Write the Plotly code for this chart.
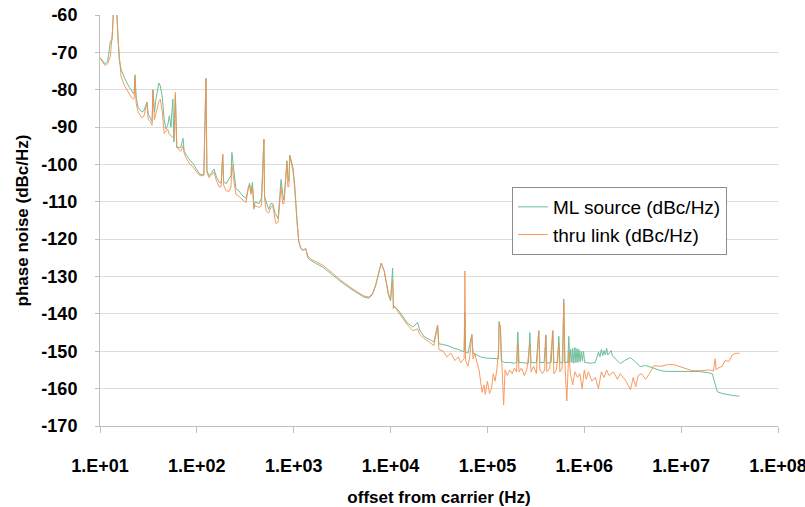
import plotly.graph_objects as go

# ---------------- data ----------------
# ML source (dBc/Hz): offset frequency (Hz) and phase noise (dBc/Hz)
freq_ml = [
    10, 10.5, 11, 11.5, 12, 12.4, 12.8, 13.3, 13.6, 14.0, 14.6, 15.2, 15.8, 16.5,
    18, 20, 21, 22, 22.5, 23, 23.6, 24.7, 27, 28.5, 30.5, 31.5, 33, 34.5,
    35.2, 36.5, 38, 40.6, 42, 44, 46, 48, 50, 52, 54, 56.5, 58, 60,
    62, 65, 68, 72, 74, 78, 85, 90, 95, 100, 105, 110, 118, 124,
    127, 133, 140, 150, 160, 170, 178, 185, 189, 200, 215, 225, 230, 240,
    253, 270, 284, 300, 322, 340, 350, 362, 375, 388, 400, 437, 465, 492,
    500, 520, 552, 580, 608, 640, 654, 690, 720, 740, 770, 794, 830, 850,
    870, 891, 912, 950, 981, 1020, 1051, 1090, 1127, 1180, 1236, 1333, 1400, 1500,
    1700, 2000, 2500, 3000, 4000, 4600, 5300, 6000, 6500, 7000, 7500, 8000, 8600, 9000,
    9500, 10000, 10500, 10700, 11000, 12000, 14000, 15000, 17000, 19000, 20000, 22000, 25000, 28000,
    30600, 31500, 35000, 40000, 45000, 50000, 55000, 57500, 58500, 59500, 63000, 69000, 71000, 78000,
    85000, 95000, 105000, 120000, 130000, 132000, 136000, 139000, 150000, 170000, 190000, 200000, 206000, 212000,
    240000, 265000, 274000, 282000, 320000, 339000, 348000, 385000, 401000, 410000, 455000, 473000, 485000, 530000,
    546000, 560000, 600000, 614000, 628000, 675000, 692000, 708000, 724000, 745000, 760000, 780000, 800000, 820000,
    840000, 860000, 880000, 905000, 930000, 955000, 980000, 1010000, 1040000, 1150000, 1300000, 1370000, 1400000, 1450000,
    1500000, 1550000, 1600000, 1650000, 1700000, 1750000, 1800000, 1850000, 1900000, 1950000, 2000000, 2200000, 2350000, 2600000,
    3.0e6, 3.4e6, 3.8e6, 4.3e6, 5.2e6, 6.2e6, 7.2e6, 1.06e7, 1.54e7, 1.96e7, 2.1e7, 2.2e7, 2.3e7, 2.36e7,
    2.65e7, 3.0e7, 3.37e7, 3.86e7, 4.0e7,
]
noise_ml = [
    -71.5, -72.0, -72.8, -73.0, -72.5, -70.0, -67.0, -66.8, -63.0, -55.0, -55.0, -64.0, -72.0, -74.5,
    -77.0, -79.3, -80.0, -81.0, -80.8, -76.0, -82.0, -84.7, -86.0, -85.5, -83.3, -86.5, -87.4, -88.5,
    -80.0, -86.0, -82.0, -78.2, -79.0, -82.0, -88.0, -90.5, -89.5, -87.0, -90.0, -82.5, -94.0, -81.5,
    -95.5, -95.4, -95.5, -93.0, -96.5, -97.5, -99.0, -99.5, -100.5, -101.5, -102.3, -102.7, -102.7, -77.0,
    -101.6, -103.0, -102.5, -101.2, -103.5, -104.8, -105.0, -97.3, -104.5, -105.2, -104.0, -103.0, -96.8, -102.0,
    -106.5, -107.0, -107.8, -108.5, -109.0, -106.0, -105.0, -107.5, -104.8, -111.5, -110.0, -110.5, -109.0, -93.3,
    -108.5, -110.0, -112.0, -110.5, -110.5, -113.0, -113.5, -114.5, -108.0, -104.0, -108.0, -109.5, -103.0, -99.0,
    -103.0, -104.5, -97.5, -99.0, -100.8, -105.0, -111.0, -116.0, -120.5, -122.5, -123.0, -122.5, -125.0, -125.7,
    -126.5, -127.5, -129.5, -131.2, -133.5, -134.5, -135.5, -135.8, -134.8, -132.5, -129.5, -126.4, -128.5, -131.5,
    -135.0, -136.5, -127.8, -138.5, -138.0, -139.0, -141.5, -142.5, -143.5, -142.3, -144.3, -146.0, -146.8, -147.5,
    -143.0, -148.0, -148.2, -148.6, -149.2, -149.5, -150.0, -150.0, -139.5, -150.2, -150.5, -145.5, -150.5, -151.0,
    -151.5, -151.8, -151.8, -152.0, -152.0, -142.0, -143.5, -152.5, -153.0, -153.0, -153.2, -153.0, -144.8, -153.0,
    -153.0, -153.2, -145.0, -153.0, -153.1, -144.5, -153.0, -153.0, -145.6, -153.2, -153.0, -144.5, -153.0, -153.0,
    -146.0, -153.0, -153.2, -136.0, -153.0, -153.0, -146.0, -153.0, -149.5, -153.0, -149.2, -153.2, -149.0, -153.0,
    -149.3, -153.0, -149.5, -152.8, -150.0, -152.6, -150.0, -153.0, -153.0, -153.2, -153.0, -150.8, -150.2, -151.5,
    -149.5, -151.2, -149.8, -151.0, -149.2, -151.0, -150.6, -150.0, -149.8, -151.2, -151.5, -152.5, -153.3, -152.5,
    -151.7, -153.0, -154.1, -153.8, -154.6, -155.2, -155.4, -155.5, -155.4, -155.8, -156.0, -158.0, -160.0, -160.8,
    -161.3, -161.6, -161.8, -162.0, -162.0,
]

# thru link (dBc/Hz)
freq_thru = [
    10, 10.5, 11, 11.5, 12, 12.8, 13.5, 14.0, 14.7, 15.3, 16.0, 16.5, 18, 20,
    21, 22, 22.5, 23, 23.6, 24.7, 27, 28.5, 30.5, 31.5, 33, 34.5, 35.2, 36.5,
    38, 40.6, 42, 44, 46, 48, 50, 52, 56, 58.5, 60, 62, 65, 68,
    72, 74, 78, 85, 90, 95, 100, 105, 110, 118, 124, 127, 133, 140,
    150, 160, 170, 178, 185, 189, 200, 215, 225, 230, 240, 253, 270, 284,
    300, 322, 340, 350, 362, 375, 388, 400, 437, 465, 492, 500, 520, 552,
    580, 608, 640, 654, 690, 720, 740, 770, 794, 830, 850, 870, 891, 912,
    950, 981, 1020, 1051, 1090, 1127, 1180, 1236, 1333, 1400, 1500, 1700, 2000, 2500,
    3000, 4000, 4600, 5300, 6000, 6500, 7000, 7500, 8000, 8600, 9000, 9500, 10000, 10500,
    10700, 11000, 12000, 14000, 15000, 17000, 19000, 20000, 22000, 25000, 28000, 30600, 31500, 35000,
    38000, 42000, 46000, 50000, 53000, 57500, 58500, 59500, 63000, 66000, 69000, 71000, 74000, 78000,
    82000, 85000, 88000, 92000, 95000, 100000, 105000, 110000, 115000, 120000, 125000, 130000, 132000, 136000,
    140000, 147000, 152000, 160000, 170000, 180000, 190000, 200000, 206000, 212000, 225000, 240000, 255000, 274000,
    282000, 300000, 320000, 339000, 348000, 370000, 390000, 401000, 410000, 440000, 473000, 485000, 515000, 546000,
    560000, 590000, 614000, 635000, 660000, 692000, 720000, 760000, 800000, 850000, 900000, 950000, 1000000, 1050000,
    1.1e6, 1.2e6, 1.3e6, 1.4e6, 1.5e6, 1.6e6, 1.7e6, 1.8e6, 2.0e6, 2.2e6, 2.35e6, 2.5e6, 2.7e6, 3.0e6,
    3.2e6, 3.4e6, 3.6e6, 3.9e6, 4.3e6, 4.7e6, 5.2e6, 6.2e6, 7.2e6, 8.5e6, 1.06e7, 1.3e7, 1.6e7, 1.96e7,
    2.15e7, 2.25e7, 2.3e7, 2.4e7, 2.65e7, 2.85e7, 3.1e7, 3.37e7, 3.6e7, 3.86e7, 4.0e7,
]
noise_thru = [
    -71.5, -72.3, -73.2, -73.5, -73.0, -71.0, -64.0, -55.0, -55.0, -66.0, -74.0, -76.5, -79.0, -81.2,
    -82.0, -82.5, -82.3, -76.5, -83.5, -86.0, -87.5, -87.0, -83.5, -88.0, -88.5, -89.5, -80.0, -88.0,
    -86.0, -83.0, -82.5, -86.0, -91.7, -91.0, -90.5, -92.0, -92.5, -93.0, -80.7, -95.0, -96.0, -96.5,
    -95.0, -97.0, -98.5, -100.0, -100.5, -101.2, -102.0, -102.8, -103.0, -103.0, -77.0, -102.0, -103.5, -103.0,
    -102.0, -104.5, -106.0, -106.0, -97.3, -105.5, -107.0, -107.2, -106.0, -100.0, -104.0, -108.0, -108.5, -109.0,
    -109.5, -110.2, -106.0, -105.5, -108.0, -106.0, -112.0, -111.0, -111.5, -111.0, -93.3, -109.0, -112.5, -113.0,
    -111.5, -111.0, -114.5, -115.8, -115.5, -110.0, -106.0, -110.5, -110.5, -103.0, -99.5, -106.0, -106.0, -97.8,
    -99.5, -101.5, -106.0, -111.5, -116.5, -120.7, -122.2, -122.8, -122.8, -124.5, -125.3, -126.0, -127.0, -129.0,
    -130.8, -133.2, -134.2, -135.2, -135.5, -134.5, -132.3, -129.3, -126.5, -128.5, -131.5, -134.5, -136.0, -131.0,
    -138.5, -138.0, -139.5, -142.0, -143.0, -144.5, -144.0, -145.5, -146.5, -147.5, -148.5, -143.0, -149.5, -150.0,
    -151.5, -150.5, -152.5, -151.5, -153.0, -152.0, -128.5, -152.5, -154.0, -151.0, -145.5, -152.0, -150.5, -153.0,
    -155.0, -158.0, -161.0, -159.0, -161.5, -158.0, -161.3, -160.0, -156.0, -158.0, -155.0, -150.0, -142.5, -143.5,
    -153.0, -164.4, -155.0, -156.5, -155.0, -156.0, -154.5, -155.5, -148.0, -155.5, -154.5, -156.5, -155.0, -148.0,
    -155.5, -154.0, -156.0, -144.5, -155.0, -156.0, -155.0, -146.0, -155.5, -154.5, -144.5, -156.0, -155.0, -148.0,
    -155.5, -154.5, -137.0, -155.0, -163.3, -150.0, -156.0, -159.0, -155.5, -157.0, -156.0, -160.0, -155.0, -157.5,
    -155.5, -158.0, -157.0, -160.0, -155.5, -157.0, -155.0, -156.5, -155.5, -157.5, -156.0, -157.0, -158.0, -160.3,
    -157.0, -159.5, -156.5, -156.0, -157.5, -156.0, -153.9, -154.0, -153.6, -153.6, -154.4, -155.2, -155.2, -155.0,
    -155.3, -152.0, -155.0, -154.5, -154.0, -152.4, -152.8, -151.0, -150.6, -150.6, -150.5,
]

x_tick_vals = [1e1, 1e2, 1e3, 1e4, 1e5, 1e6, 1e7, 1e8]
x_tick_text = ["1.E+01", "1.E+02", "1.E+03", "1.E+04", "1.E+05", "1.E+06", "1.E+07", "1.E+08"]
y_tick_vals = [-60, -70, -80, -90, -100, -110, -120, -130, -140, -150, -160, -170]
y_tick_text = ["-60", "-70", "-80", "-90", "-100", "-110", "-120", "-130", "-140", "-150", "-160", "-170"]

series_names = ["ML source (dBc/Hz)", "thru link (dBc/Hz)"]
series_colors = ["#5cb88e", "#f8914f"]

# ---------------- figure ----------------
FONT = "Liberation Sans, Arial, sans-serif"

fig = go.Figure()
fig.add_trace(go.Scatter(
    x=freq_ml, y=noise_ml, mode="lines", name=series_names[0],
    line=dict(color=series_colors[0], width=1), opacity=0.9,
))
fig.add_trace(go.Scatter(
    x=freq_thru, y=noise_thru, mode="lines", name=series_names[1],
    line=dict(color=series_colors[1], width=1), opacity=0.9,
))

fig.update_layout(
    width=805, height=507,
    margin=dict(l=100, r=27, t=15, b=81),
    paper_bgcolor="white", plot_bgcolor="white",
    font=dict(family=FONT, color="black", size=17),
    showlegend=True,
    legend=dict(
        x=0.6077, y=0.5815, xanchor="left", yanchor="top",
        bgcolor="white", bordercolor="#8c8c8c", borderwidth=1,
        font=dict(family=FONT, size=19, color="black"),
    ),
    xaxis=dict(
        type="log", range=[1, 8], automargin=False,
        tickvals=x_tick_vals, ticktext=x_tick_text,
        tickfont=dict(family=FONT, size=18, weight="bold"),
        ticks="outside", ticklen=6, tickcolor="#bfbfbf",
        ticklabelstandoff=17, ticklabeloverflow="allow",
        showgrid=False, zeroline=False,
        showline=True, linecolor="#bfbfbf", linewidth=1,
        title=dict(text="offset from carrier (Hz)", standoff=22,
                   font=dict(family=FONT, size=17, weight="bold")),
    ),
    yaxis=dict(
        range=[-170, -60], automargin=False,
        tickvals=y_tick_vals, ticktext=y_tick_text,
        tickfont=dict(family=FONT, size=18, weight="bold"),
        ticks="outside", ticklen=4, tickcolor="#bfbfbf",
        ticklabelstandoff=14,
        showgrid=True, gridcolor="#dcdcdc", gridwidth=1,
        zeroline=False,
        showline=True, linecolor="#bfbfbf", linewidth=1,
        title=dict(text="phase noise (dBc/Hz)", standoff=8,
                   font=dict(family=FONT, size=17, weight="bold")),
    ),
)

fig.write_html("out.html")
